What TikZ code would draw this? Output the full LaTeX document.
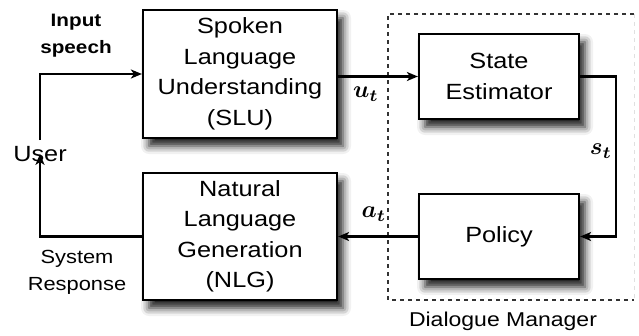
\documentclass[tikz,border=0pt]{standalone}
\usepackage{fontspec}
\setmainfont{Liberation Sans}[FakeStretch=1.15]
\usetikzlibrary{arrows.meta,shadows.blur}
\begin{document}
\begin{tikzpicture}[x=1pt,y=-1pt,
  block/.style={draw=black,line width=2.2pt,fill=white,minimum width=194pt,
    align=center,font=\fontsize{22}{30.5}\selectfont,
    blur shadow={shadow xshift=6pt,shadow yshift=-8pt,shadow blur radius=8pt,shadow opacity=90}},
  smallblock/.style={block,minimum width=160pt,minimum height=85pt},
  arr/.style={line width=2.2pt,-{Stealth[length=11pt,width=9pt,inset=3pt]}},
  lbl/.style={font=\fontsize{19}{27}\selectfont,align=center},
  mlbl/.style={inner sep=0pt,font=\boldmath},
  frame/.style={line width=1.6pt,dash pattern=on 4pt off 4pt}]
\useasboundingbox (0,0) rectangle (639,335);

% dialogue manager frame
\draw[frame,black!80] (634,14) -- (388,14) -- (388,300) -- (634,300);
\draw[frame,black!12,line width=1pt] (634,14) -- (634,300);
\node[lbl,font=\fontsize{20}{24}\selectfont] (dmlabel) at (503,321) {Dialogue Manager};

% modules
\node[block,minimum height=128pt] (slu) at (240,74) {Spoken\\Language\\Understanding\\(SLU)};
\node[block,minimum height=127pt] (nlg) at (240,236.5) {Natural\\Language\\Generation\\(NLG)};
\node[smallblock] (se) at (499,76.5) {State\\Estimator};
\node[smallblock] (pol) at (499,236.5) {Policy};

% user and side labels
\node[font=\fontsize{22}{22}\selectfont,inner sep=1pt] (user) at (40,154) {User};
\node[lbl,font=\bfseries\fontsize{18}{27}\selectfont] (inp) at (76,36) {Input\\speech};
\node[lbl] (resp) at (77,272) {System\\Response};

% connectors
\draw[arr] (user.north) ++(0,-5) coordinate (ustart) -- (ustart |- slu.west) -- (slu.west);
\draw[arr] (se.west -| slu.east) -- (se.west);
\draw[arr] (se.east) -- ++(36,0) coordinate (turn) -- (turn |- pol.east) -- (pol.east);
\draw[arr] (pol.west) -- (pol.west -| nlg.east);
\draw[arr] (nlg.west) -- (nlg.west -| user.south) -- ([yshift=9pt]user.south);

% signal labels
\node[mlbl] (ut) at (366,94) {\scalebox{2.4}{$u_t$}};
\node[mlbl] (st) at (601,151) {\scalebox{2.4}{$s_t$}};
\node[mlbl] (at) at (374,214) {\scalebox{2.4}{$a_t$}};
\end{tikzpicture}
\end{document}
